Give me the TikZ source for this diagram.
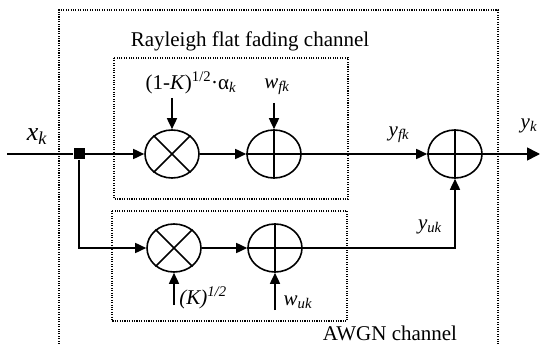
\documentclass[tikz,border=0pt]{standalone}
\usepackage{fontspec}
\setmainfont{Liberation Serif}
\usetikzlibrary{arrows.meta,shapes.geometric}
\begin{document}
\begin{tikzpicture}[x=1pt,y=-1pt,
  op/.style={draw,ellipse,line width=1.6pt,minimum width=54pt,minimum height=48pt,inner sep=0pt},
  wire/.style={line width=1.6pt},
  arr/.style={wire,-{Triangle[length=11pt,width=10pt]}},
  bigarr/.style={wire,-{Triangle[length=13pt,width=13pt]}},
  dotbox/.style={line width=1.2pt,dash pattern=on 1.1pt off 1.3pt},
  lbl/.style={inner sep=0pt,font=\fontsize{21}{24}\selectfont},
  biglbl/.style={inner sep=0pt,font=\fontsize{26}{28}\selectfont}]
\useasboundingbox (0,0) rectangle (540,344);
\fill[white] (0,0) rectangle (540,344);
% dotted boxes
\draw[dotbox] (59,344) -- (59,10) -- (498,10) -- (498,344);
\draw[dotbox] (114,58) rectangle (348,199);
\draw[dotbox] (112,211) rectangle (347,321);
% operators
\node[op] (m1) at (172,154) {};
\node[op] (a1) at (274,154) {};
\node[op] (a3) at (455,154) {};
\node[op] (m2) at (174,248) {};
\node[op] (a2) at (275,248) {};
\foreach \n in {m1,m2} \draw[wire] (\n.135) -- (\n.-45) (\n.45) -- (\n.-135);
\foreach \n in {a1,a2,a3} \draw[wire] (\n.north) -- (\n.south) (\n.west) -- (\n.east);
% junction
\node[fill,draw=none,minimum size=11pt,inner sep=0pt] (j) at (79,154) {};
% coordinates
\coordinate (xin) at (7,154);
\coordinate (out) at (540,154);
\coordinate (im1) at (172,98);
\coordinate (ia1) at (274,103);
\coordinate (im2) at (174,305);
\coordinate (ia2) at (275,310);
% wires
\draw[wire] (xin) -- (j);
\draw[arr] (j) -- (m1);
\draw[arr] (m1) -- (a1);
\draw[arr] (a1) -- (a3);
\draw[bigarr] (a3) -- (out);
\draw[arr] (j.south) |- (m2.west);
\draw[arr] (m2) -- (a2);
\draw[arr] (a2.east) -| (a3.south);
\draw[arr] (im1) -- (m1.north);
\draw[arr] (ia1) -- (a1.north);
\draw[arr] (im2) -- (m2.south);
\draw[arr] (ia2) -- (a2.south);
% labels
\node[lbl] (t1) at (250,41) {Rayleigh flat fading channel};
\node[lbl] (t2) at (390,333) {AWGN channel};
\node[lbl] (lm1) at (191,83) {(1-\textit{K})\textsuperscript{1/2}·α\textsubscript{\textit{k}}};
\node[lbl] (la1) at (277,87) {\textit{w}\textsubscript{\textit{fk}}};
\node[lbl] (lm2) at (203,298) {\textit{(K)}\textsuperscript{\textit{1/2}}};
\node[lbl] (la2) at (298,302) {\textit{w}\textsubscript{\textit{uk}}};
\node[lbl] (lyf) at (399,135) {\textit{y}\textsubscript{\textit{fk}}};
\node[lbl] (lyu) at (430,227) {\textit{y}\textsubscript{\textit{uk}}};
\node[lbl] (lyk) at (529,126) {\textit{y}\textsubscript{\textit{k}}};
\node[biglbl] (lxk) at (37,137) {\textit{x}\textsubscript{\textit{k}}};
\end{tikzpicture}
\end{document}
